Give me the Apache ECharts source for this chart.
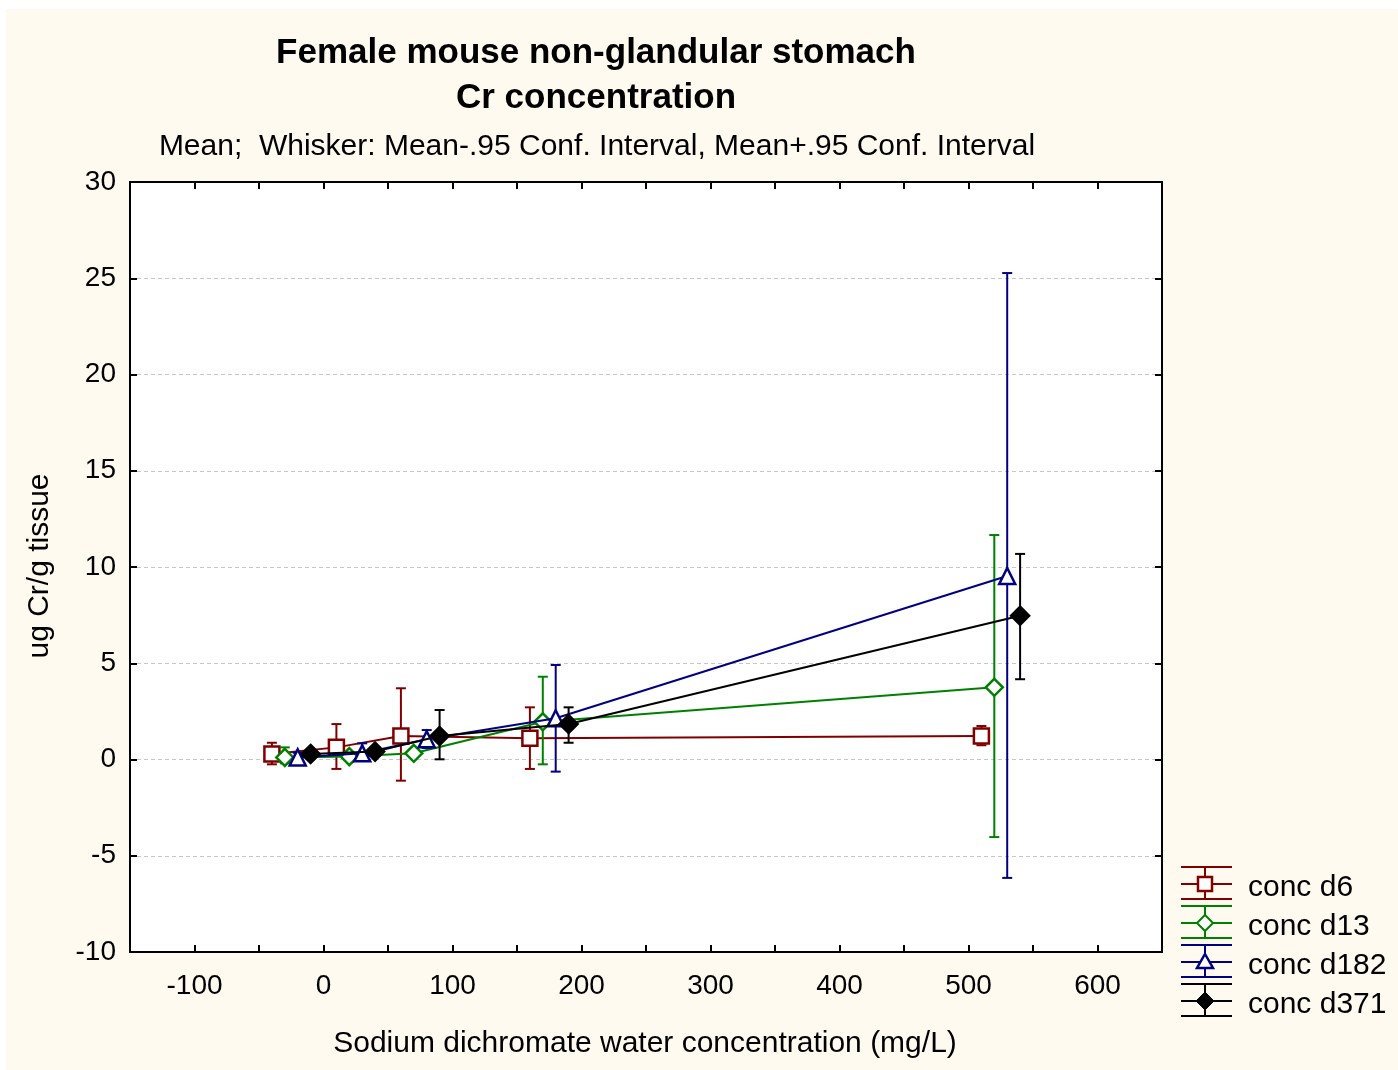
<!DOCTYPE html>
<html>
<head>
<meta charset="utf-8">
<style>
  html, body { margin: 0; padding: 0; background: #ffffff; }
  #main { width: 1398px; height: 1070px; }
</style>
<script src="https://cdn.jsdelivr.net/npm/echarts@6/dist/echarts.min.js"></script>
</head>
<body>
<div id="main"></div>
<script>
// series values (x is offset per series, like the original plot)
var seriesNames = ['conc d6', 'conc d13', 'conc d182', 'conc d371'];
var seriesColors = ['#800000', '#008000', '#000080', '#000000'];

var xD6 = [-40, 10, 60, 160, 510];
var meanD6 = [0.29, 0.63, 1.22, 1.10, 1.22];
var lowD6 = [-0.25, -0.49, -1.10, -0.49, 0.74];
var highD6 = [0.87, 1.84, 3.70, 2.71, 1.74];

var xD13 = [-30, 20, 70, 170, 520];
var meanD13 = [0.11, 0.15, 0.32, 1.96, 3.75];
var lowD13 = [-0.2, 0.0, 0.15, -0.25, -4.03];
var highD13 = [0.63, 0.3, 0.5, 4.30, 11.66];

var xD182 = [-20, 30, 80, 180, 530];
var meanD182 = [0.11, 0.32, 1.05, 2.14, 9.53];
var lowD182 = [-0.1, 0.1, 0.6, -0.63, -6.15];
var highD182 = [0.35, 0.84, 1.53, 4.91, 25.27];

var xD371 = [-10, 40, 90, 190, 540];
var meanD371 = [0.29, 0.41, 1.22, 1.84, 7.47];
var lowD371 = [0.1, 0.2, 0.01, 0.87, 4.17];
var highD371 = [0.45, 0.6, 2.57, 2.71, 10.68];

var xTickMin = -150, xTickMax = 650, xTickStep = 50;
var yTickMin = -10, yTickMax = 30, yTickStep = 5;

var FONT = '"Liberation Sans", Arial, sans-serif';
var cream = '#fffaf0';

var allX = [xD6, xD13, xD182, xD371];
var allMean = [meanD6, meanD13, meanD182, meanD371];
var allLow = [lowD6, lowD13, lowD182, lowD371];
var allHigh = [highD6, highD13, highD182, highD371];

var symbols = ['rect', 'diamond', 'triangle', 'diamond'];
var symbolSizes = [15, 17, 16, 18];

function errRender(color) {
    return function (params, api) {
        var x = api.value(0);
        var lo = api.coord([x, api.value(1)]);
        var hi = api.coord([x, api.value(2)]);
        var w = 5;
        var st = { stroke: color, lineWidth: 2 };
        return {
            type: 'group',
            children: [
                { type: 'line', shape: { x1: lo[0], y1: lo[1], x2: hi[0], y2: hi[1] }, style: st },
                { type: 'line', shape: { x1: lo[0] - w, y1: lo[1], x2: lo[0] + w, y2: lo[1] }, style: st },
                { type: 'line', shape: { x1: hi[0] - w, y1: hi[1], x2: hi[0] + w, y2: hi[1] }, style: st }
            ]
        };
    };
}

var series = [];
for (var i = 0; i < 4; i++) {
    var errData = [], lineData = [];
    for (var k = 0; k < allX[i].length; k++) {
        errData.push([allX[i][k], allLow[i][k], allHigh[i][k]]);
        lineData.push([allX[i][k], allMean[i][k]]);
    }
    series.push({
        type: 'custom',
        name: seriesNames[i] + ' ci',
        renderItem: errRender(seriesColors[i]),
        encode: { x: 0, y: [1, 2] },
        data: errData,
        z: 2 + i * 2,
        silent: true
    });
    series.push({
        type: 'line',
        name: seriesNames[i],
        data: lineData,
        symbol: symbols[i],
        symbolSize: symbolSizes[i],
        showAllSymbol: true,
        lineStyle: { color: seriesColors[i], width: 2 },
        itemStyle: {
            color: i === 3 ? '#000000' : '#ffffff',
            borderColor: seriesColors[i],
            borderWidth: 2.5
        },
        z: 3 + i * 2,
        animation: false
    });
}

// legend drawn by hand: whisker icon + marker + text
var legendGraphics = [];
var legendMid = [884, 923, 962, 1001];
for (var j = 0; j < 4; j++) {
    var c = seriesColors[j], m = legendMid[j];
    var ls = { stroke: c, lineWidth: 2 };
    legendGraphics.push({ type: 'line', shape: { x1: 1181, y1: m - 17, x2: 1232, y2: m - 17 }, style: ls });
    legendGraphics.push({ type: 'line', shape: { x1: 1181, y1: m, x2: 1232, y2: m }, style: ls });
    legendGraphics.push({ type: 'line', shape: { x1: 1181, y1: m + 15, x2: 1232, y2: m + 15 }, style: ls });
    legendGraphics.push({ type: 'line', shape: { x1: 1205, y1: m - 17, x2: 1205, y2: m + 15 }, style: ls });
    var mk;
    if (j === 0) {
        mk = { type: 'rect', shape: { x: 1198, y: m - 7, width: 14, height: 14 }, style: { fill: '#fff', stroke: c, lineWidth: 2.5 } };
    } else if (j === 1) {
        mk = { type: 'polygon', shape: { points: [[1205, m - 8], [1213, m], [1205, m + 8], [1197, m]] }, style: { fill: '#fff', stroke: c, lineWidth: 2 } };
    } else if (j === 2) {
        mk = { type: 'polygon', shape: { points: [[1205, m - 8], [1213, m + 6], [1197, m + 6]] }, style: { fill: '#fff', stroke: c, lineWidth: 2.5 } };
    } else {
        mk = { type: 'polygon', shape: { points: [[1205, m - 9], [1214, m], [1205, m + 9], [1196, m]] }, style: { fill: c, stroke: c, lineWidth: 1 } };
    }
    legendGraphics.push(mk);
    legendGraphics.push({
        type: 'text', x: 1248, y: m + 4,
        style: { text: seriesNames[j], font: '30px ' + FONT, fill: '#000', textVerticalAlign: 'middle' }
    });
}

var chart = echarts.init(document.getElementById('main'));
chart.setOption({
    backgroundColor: '#ffffff',
    animation: false,
    graphic: [
        { type: 'rect', z: -10, shape: { x: 6, y: 9, width: 1392, height: 1061 }, style: { fill: cream } },
        {
            type: 'text', x: 596, y: 53,
            style: { text: 'Female mouse non-glandular stomach', font: 'bold 35px ' + FONT, fill: '#000', textAlign: 'center', textVerticalAlign: 'middle' }
        },
        {
            type: 'text', x: 596, y: 98,
            style: { text: 'Cr concentration', font: 'bold 35px ' + FONT, fill: '#000', textAlign: 'center', textVerticalAlign: 'middle' }
        },
        {
            type: 'text', x: 597, y: 147,
            style: { text: 'Mean;  Whisker: Mean-.95 Conf. Interval, Mean+.95 Conf. Interval', font: '30px ' + FONT, fill: '#000', textAlign: 'center', textVerticalAlign: 'middle' }
        },
        {
            type: 'text', x: 645, y: 1044,
            style: { text: 'Sodium dichromate water concentration (mg/L)', font: '30px ' + FONT, fill: '#000', textAlign: 'center', textVerticalAlign: 'middle' }
        },
        {
            type: 'text', x: 40, y: 566, rotation: Math.PI / 2,
            style: { text: 'ug Cr/g tissue', font: '30px ' + FONT, fill: '#000', textAlign: 'center', textVerticalAlign: 'middle' }
        }
    ].concat(legendGraphics),
    grid: {
        left: 130, top: 182, width: 1032, height: 770,
        show: true, backgroundColor: '#ffffff', borderColor: '#000', borderWidth: 2
    },
    xAxis: [{
        type: 'value', position: 'bottom',
        min: xTickMin, max: xTickMax, interval: xTickStep,
        axisLine: { show: true, onZero: false, lineStyle: { color: '#000', width: 2 } },
        axisTick: { show: true, inside: true, length: 7, lineStyle: { color: '#000', width: 2 } },
        axisLabel: {
            margin: 20, fontSize: 28, fontFamily: FONT, color: '#000',
            showMinLabel: false, showMaxLabel: false,
            formatter: function (v) { return v % 100 === 0 ? String(v) : ''; }
        },
        splitLine: { show: false }
    }, {
        type: 'value', position: 'top',
        min: xTickMin, max: xTickMax, interval: xTickStep,
        axisLine: { show: true, onZero: false, lineStyle: { color: '#000', width: 2 } },
        axisTick: { show: true, inside: true, length: 7, lineStyle: { color: '#000', width: 2 } },
        axisLabel: { show: false },
        splitLine: { show: false }
    }],
    yAxis: [{
        type: 'value', position: 'left',
        min: yTickMin, max: yTickMax, interval: yTickStep,
        axisLine: { show: true, onZero: false, lineStyle: { color: '#000', width: 2 } },
        axisTick: { show: true, inside: true, length: 7, lineStyle: { color: '#000', width: 2 } },
        axisLabel: { margin: 14, fontSize: 28, fontFamily: FONT, color: '#000' },
        splitLine: { show: true, lineStyle: { color: '#c8c8c8', width: 1, type: [4, 3] } }
    }, {
        type: 'value', position: 'right',
        min: yTickMin, max: yTickMax, interval: yTickStep,
        axisLine: { show: true, onZero: false, lineStyle: { color: '#000', width: 2 } },
        axisTick: { show: true, inside: true, length: 7, lineStyle: { color: '#000', width: 2 } },
        axisLabel: { show: false },
        splitLine: { show: false }
    }],
    series: series
});
</script>
</body>
</html>
